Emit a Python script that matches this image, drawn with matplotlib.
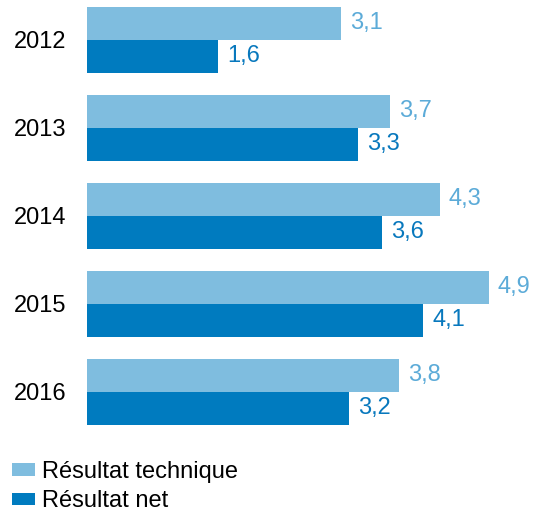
import numpy as np
import matplotlib.pyplot as plt

plt.rcParams['font.family'] = ['Liberation Sans', 'DejaVu Sans']

# données
annees = ['2012', '2013', '2014', '2015', '2016']
resultat_technique = [3.1, 3.7, 4.3, 4.9, 3.8]
resultat_net = [1.6, 3.3, 3.6, 4.1, 3.2]

c_clair = '#7fbddf'
c_fonce = '#007bbf'
c_txt_clair = '#5cabd8'
c_txt_fonce = '#0878bd'

fig = plt.figure(figsize=(5.34, 5.13), dpi=100)
ax = fig.add_axes([87 / 534, 1 - 440 / 513, 1 - 87 / 534, 440 / 513])

y = np.arange(len(annees))
h = 0.375
b1 = ax.barh(y - h / 2, resultat_technique, height=h, color=c_clair,
             label='Résultat technique')
b2 = ax.barh(y + h / 2, resultat_net, height=h, color=c_fonce,
             label='Résultat net')

# étiquettes de valeurs (virgule décimale)
for yi, v in zip(y, resultat_technique):
    ax.text(v + 0.11, yi - h / 2, f'{v:.1f}'.replace('.', ','),
            va='center', ha='left', fontsize=17, color=c_txt_clair)
for yi, v in zip(y, resultat_net):
    ax.text(v + 0.11, yi + h / 2, f'{v:.1f}'.replace('.', ','),
            va='center', ha='left', fontsize=17, color=c_txt_fonce)

ax.set_xlim(0, 447 / 82)
ax.set_ylim(400 / 88, -40 / 88)
ax.set_yticks(y)
ax.set_yticklabels(annees, fontsize=17)
ax.tick_params(axis='y', length=0, pad=15)
ax.set_xticks([])
for s in ax.spines.values():
    s.set_visible(False)

fig.legend(handles=[b1, b2], loc='upper left', bbox_to_anchor=(12 / 534, 1 - 461 / 513),
           frameon=False, fontsize=17, handlelength=0.97, handleheight=0.42,
           handletextpad=0.3, labelspacing=0.3, borderaxespad=0, borderpad=0)

plt.savefig('out.png', dpi=100)
